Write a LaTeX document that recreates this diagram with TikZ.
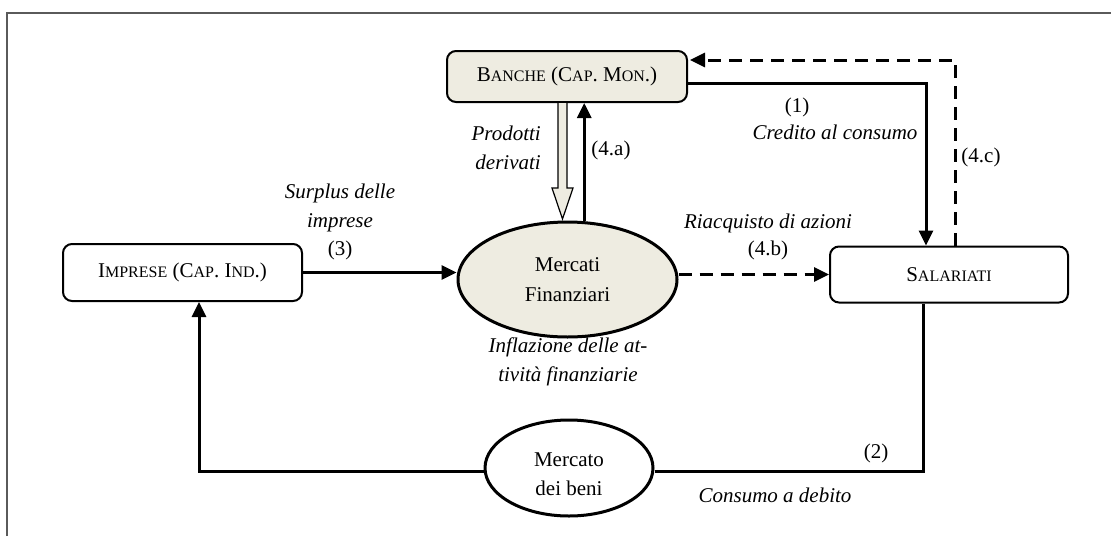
\documentclass[tikz,border=0pt]{standalone}
\usepackage{fontspec}
\setmainfont{Liberation Serif}
\usetikzlibrary{arrows.meta,calc,shapes.geometric}
\definecolor{beige}{RGB}{238,236,225}
\definecolor{framegray}{RGB}{90,90,90}
\newcommand{\scl}[1]{{\fontsize{16}{18}\selectfont #1}}
\begin{document}
\begin{tikzpicture}[x=1pt,y=-1pt,
  every node/.style={font=\fontsize{21}{29}\selectfont, inner sep=0pt},
  box/.style={draw, line width=2pt, rounded corners=9pt, minimum width=240pt, minimum height=54pt},
  oval/.style={draw, ellipse, line width=3pt, align=center, font=\fontsize{21}{30}\selectfont},
  conn/.style={line width=3pt, -{Triangle[length=15pt,width=14pt]}},
  plain/.style={line width=3pt},
  dconn/.style={conn, dash pattern=on 13pt off 8pt},
  hollow/.style={draw, fill=beige, line width=1.2pt},
  lbl/.style={align=center},
  ilbl/.style={align=center, font=\fontsize{21}{29}\selectfont\itshape}
]
\useasboundingbox (0,0) rectangle (1111,536);
\draw[framegray, line width=1.2pt] (7,536) -- (7,13) -- (1111,13);

% nodes
\node[box, fill=beige, minimum width=240pt, minimum height=51pt] (banche) at (567,76.5) {B\scl{ANCHE} (C\scl{AP}. M\scl{ON}.)};
\node[box, minimum width=239pt, minimum height=57pt] (imprese) at (182.5,272.5) {I\scl{MPRESE} (C\scl{AP}. I\scl{ND}.)};
\node[box, minimum width=238pt, minimum height=56pt] (salariati) at (949,274.5) {S\scl{ALARIATI}};
\node[oval, fill=beige, minimum width=219pt, minimum height=115pt] (mf) at (567.5,279.5) {Mercati\\Finanziari};
\node[oval, minimum width=168pt, minimum height=96pt,
  label={[yshift=-6pt, align=center, font=\fontsize{21}{29}\selectfont]center:Mercato\\dei beni}] (mb) at (569,468) {};

% connectors
\draw[conn] (imprese.east) -- (imprese.east -| mf.west);
\draw[dconn] (salariati.west -| mf.east) -- (salariati.west);
\draw[conn] (mf.74) -- (mf.74 |- banche.south);
\draw[hollow] ([xshift=-9pt]banche.south) -- ++(0,85) -- ++(-6,0) -- ++(10.5,31) -- ++(10.5,-31) -- ++(-6,0) -- ++(0,-85);
\draw[conn] ([yshift=-6.5pt]banche.east) -| ([xshift=-23pt]salariati.north);
\draw[dconn] ([xshift=6pt]salariati.north) |- ([yshift=16.5pt,xshift=2pt]banche.east);
\draw[plain] ([xshift=-26pt]salariati.south) |- ([yshift=-3pt]mb.east);
\draw[conn] ([yshift=-3pt]mb.west) -| ([xshift=16.5pt]imprese.south);

% labels
\node[ilbl, anchor=east] (lprod) at (541,149) {\begin{tabular}{@{}r@{}}Prodotti\\derivati\end{tabular}};
\node[lbl] (l4a) at (611,150) {(4.a)};
\node[lbl] (l1) at (797,107) {(1)};
\node[ilbl] (lcred) at (835,132) {Credito al consumo};
\node[lbl] (l4c) at (981,157) {(4.c)};
\node[ilbl] (lsurp) at (340,208) {Surplus delle\\imprese};
\node[lbl] (l3) at (340,250) {(3)};
\node[ilbl] (lriac) at (768,223) {Riacquisto di azioni};
\node[lbl] (l4b) at (768,250) {(4.b)};
\node[ilbl] (linfl) at (568,362) {Inflazione delle at-\\tività finanziarie};
\node[lbl] (l2) at (876,453) {(2)};
\node[ilbl] (lcons) at (775,495) {Consumo a debito};
\end{tikzpicture}
\end{document}
